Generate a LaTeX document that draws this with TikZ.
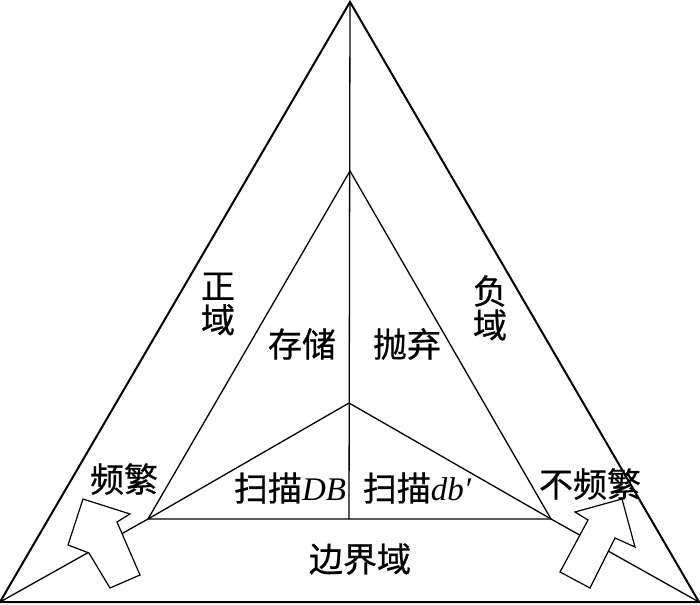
\documentclass[tikz,border=0pt]{standalone}
\usepackage{fontspec}
\setmainfont{Liberation Serif}
\newfontfamily\cjk[FakeBold=0.6]{Noto Sans CJK SC}
\begin{document}
\begin{tikzpicture}[x=1pt,y=-1pt,
  outer/.style={line width=2pt},
  inner/.style={line width=1.3pt},
  bigarrow/.style={draw,fill=white,line width=1.2pt,line join=miter},
  lbl/.style={inner sep=0pt,font=\fontsize{34}{34}\selectfont\cjk}]
\useasboundingbox (0,0) rectangle (700,604);
% vertices
\coordinate (A) at (350,2);
\coordinate (L) at (0,602);
\coordinate (R) at (699,602);
\coordinate (a) at (350,171);
\coordinate (l) at (148,519);
\coordinate (r) at (551,519);
\coordinate (c) at (349,403);
\coordinate (m) at (349,519);
% outer triangle
\draw[outer,line join=miter] (L) -- (A) -- (R) -- cycle;
% inner triangle
\draw[inner] (l) -- (a) -- (r) -- cycle;
\draw[inner] (A) -- (m);
\draw[inner] (l) -- (c) -- (r);
\draw[inner] (L) -- (l);
\draw[inner] (R) -- (r);
% hollow arrows
\draw[bigarrow] (83,499) -- (130,514) -- (117,522) -- (140,575) -- (110,588) -- (89,553) -- (68,545) -- cycle;
\draw[bigarrow] (622,499) -- (635,547) -- (615,538) -- (590,588) -- (560,572) -- (588,520) -- (575,512) -- cycle;
% labels
\node[lbl,align=center] (zy) at (218,304) {正\\域};
\node[lbl,align=center] (fy) at (490,308) {负\\域};
\node[lbl] (cc) at (302,344) {存储};
\node[lbl] (pq) at (407,344) {抛弃};
\node[lbl] (pf) at (124,479) {频繁};
\node[lbl] (bpf) at (590,484) {不频繁};
\node[lbl] (sdb) at (290,488) {扫描\fontsize{33}{34}\selectfont\rmfamily\itshape DB};
\node[lbl] (sdb2) at (417,488) {扫描\fontsize{33}{34}\selectfont\rmfamily\itshape db′};
\node[lbl] (bj) at (360,559) {边界域};
\end{tikzpicture}
\end{document}
